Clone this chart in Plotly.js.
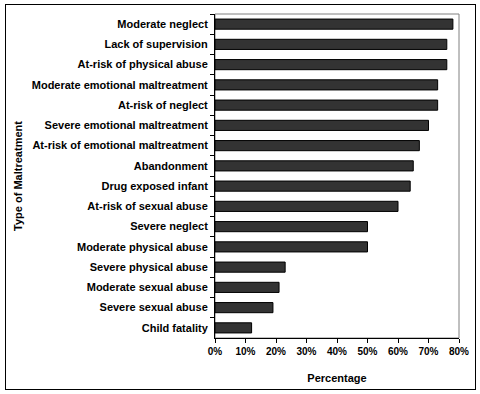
<!DOCTYPE html>
<html>
<head>
<meta charset="utf-8">
<script src="https://cdn.plot.ly/plotly-3.0.1.min.js"></script>
<style>
html,body{margin:0;padding:0;background:#fff;}
#wrap{position:relative;width:480px;height:394px;}
#frame{position:absolute;left:5px;top:4px;width:469px;height:384px;border:1px solid #000;pointer-events:none;}
#chart{position:absolute;left:0;top:0;width:480px;height:394px;}
</style>
</head>
<body>
<div id="wrap"><div id="chart"></div><div id="frame"></div></div>
<script>
const categories = [
  "Moderate neglect",
  "Lack of supervision",
  "At-risk of physical abuse",
  "Moderate emotional maltreatment",
  "At-risk of neglect",
  "Severe emotional maltreatment",
  "At-risk of emotional maltreatment",
  "Abandonment",
  "Drug exposed infant",
  "At-risk of sexual abuse",
  "Severe neglect",
  "Moderate physical abuse",
  "Severe physical abuse",
  "Moderate sexual abuse",
  "Severe sexual abuse",
  "Child fatality"
];
const percentages = [78, 76, 76, 73, 73, 70, 67, 65, 64, 60, 50, 50, 23, 21, 19, 12];
const xTickVals = [0, 10, 20, 30, 40, 50, 60, 70, 80];
const xTickText = ["0%", "10%", "20%", "30%", "40%", "50%", "60%", "70%", "80%"];

const fontFam = "Liberation Sans, Arial, sans-serif";

const trace = {
  type: "bar",
  orientation: "h",
  x: percentages,
  y: categories,
  marker: {color: "#333333", line: {color: "#000000", width: 1}},
  hoverinfo: "none"
};

const layout = {
  width: 480,
  height: 394,
  margin: {l: 215, r: 21, t: 14, b: 56},
  paper_bgcolor: "rgba(0,0,0,0)",
  plot_bgcolor: "#ffffff",
  showlegend: false,
  bargap: 0.5,
  font: {family: fontFam, color: "#000", size: 11, weight: 700},
  xaxis: {
    range: [0, 80],
    tickvals: xTickVals,
    ticktext: xTickText,
    ticks: "outside",
    ticklen: 4,
    tickcolor: "#000",
    showline: true,
    linecolor: "#000",
    linewidth: 1,
    showgrid: false,
    zeroline: false,
    tickfont: {family: fontFam, size: 10, weight: 700, color: "#000"},
    title: {text: "Percentage", font: {family: fontFam, size: 11, weight: 700, color: "#000"}, standoff: 18}
  },
  yaxis: {
    type: "category",
    autorange: "reversed",
    ticks: "outside",
    tickson: "boundaries",
    ticklen: 4,
    tickcolor: "#000",
    ticklabelstandoff: 4,
    showline: true,
    linecolor: "#000",
    linewidth: 1,
    showgrid: false,
    zeroline: false,
    tickfont: {family: fontFam, size: 11, weight: 700, color: "#000"},
    title: {text: "Type of Maltreatment", font: {family: fontFam, size: 11, weight: 700, color: "#000"}, standoff: 6}
  },
  shapes: [{
    type: "rect", xref: "paper", yref: "paper", x0: 0, x1: 1, y0: 0, y1: 1,
    line: {color: "#808080", width: 1}, layer: "below"
  }]
};

Plotly.newPlot("chart", [trace], layout, {staticPlot: true, displayModeBar: false});
</script>
</body>
</html>
